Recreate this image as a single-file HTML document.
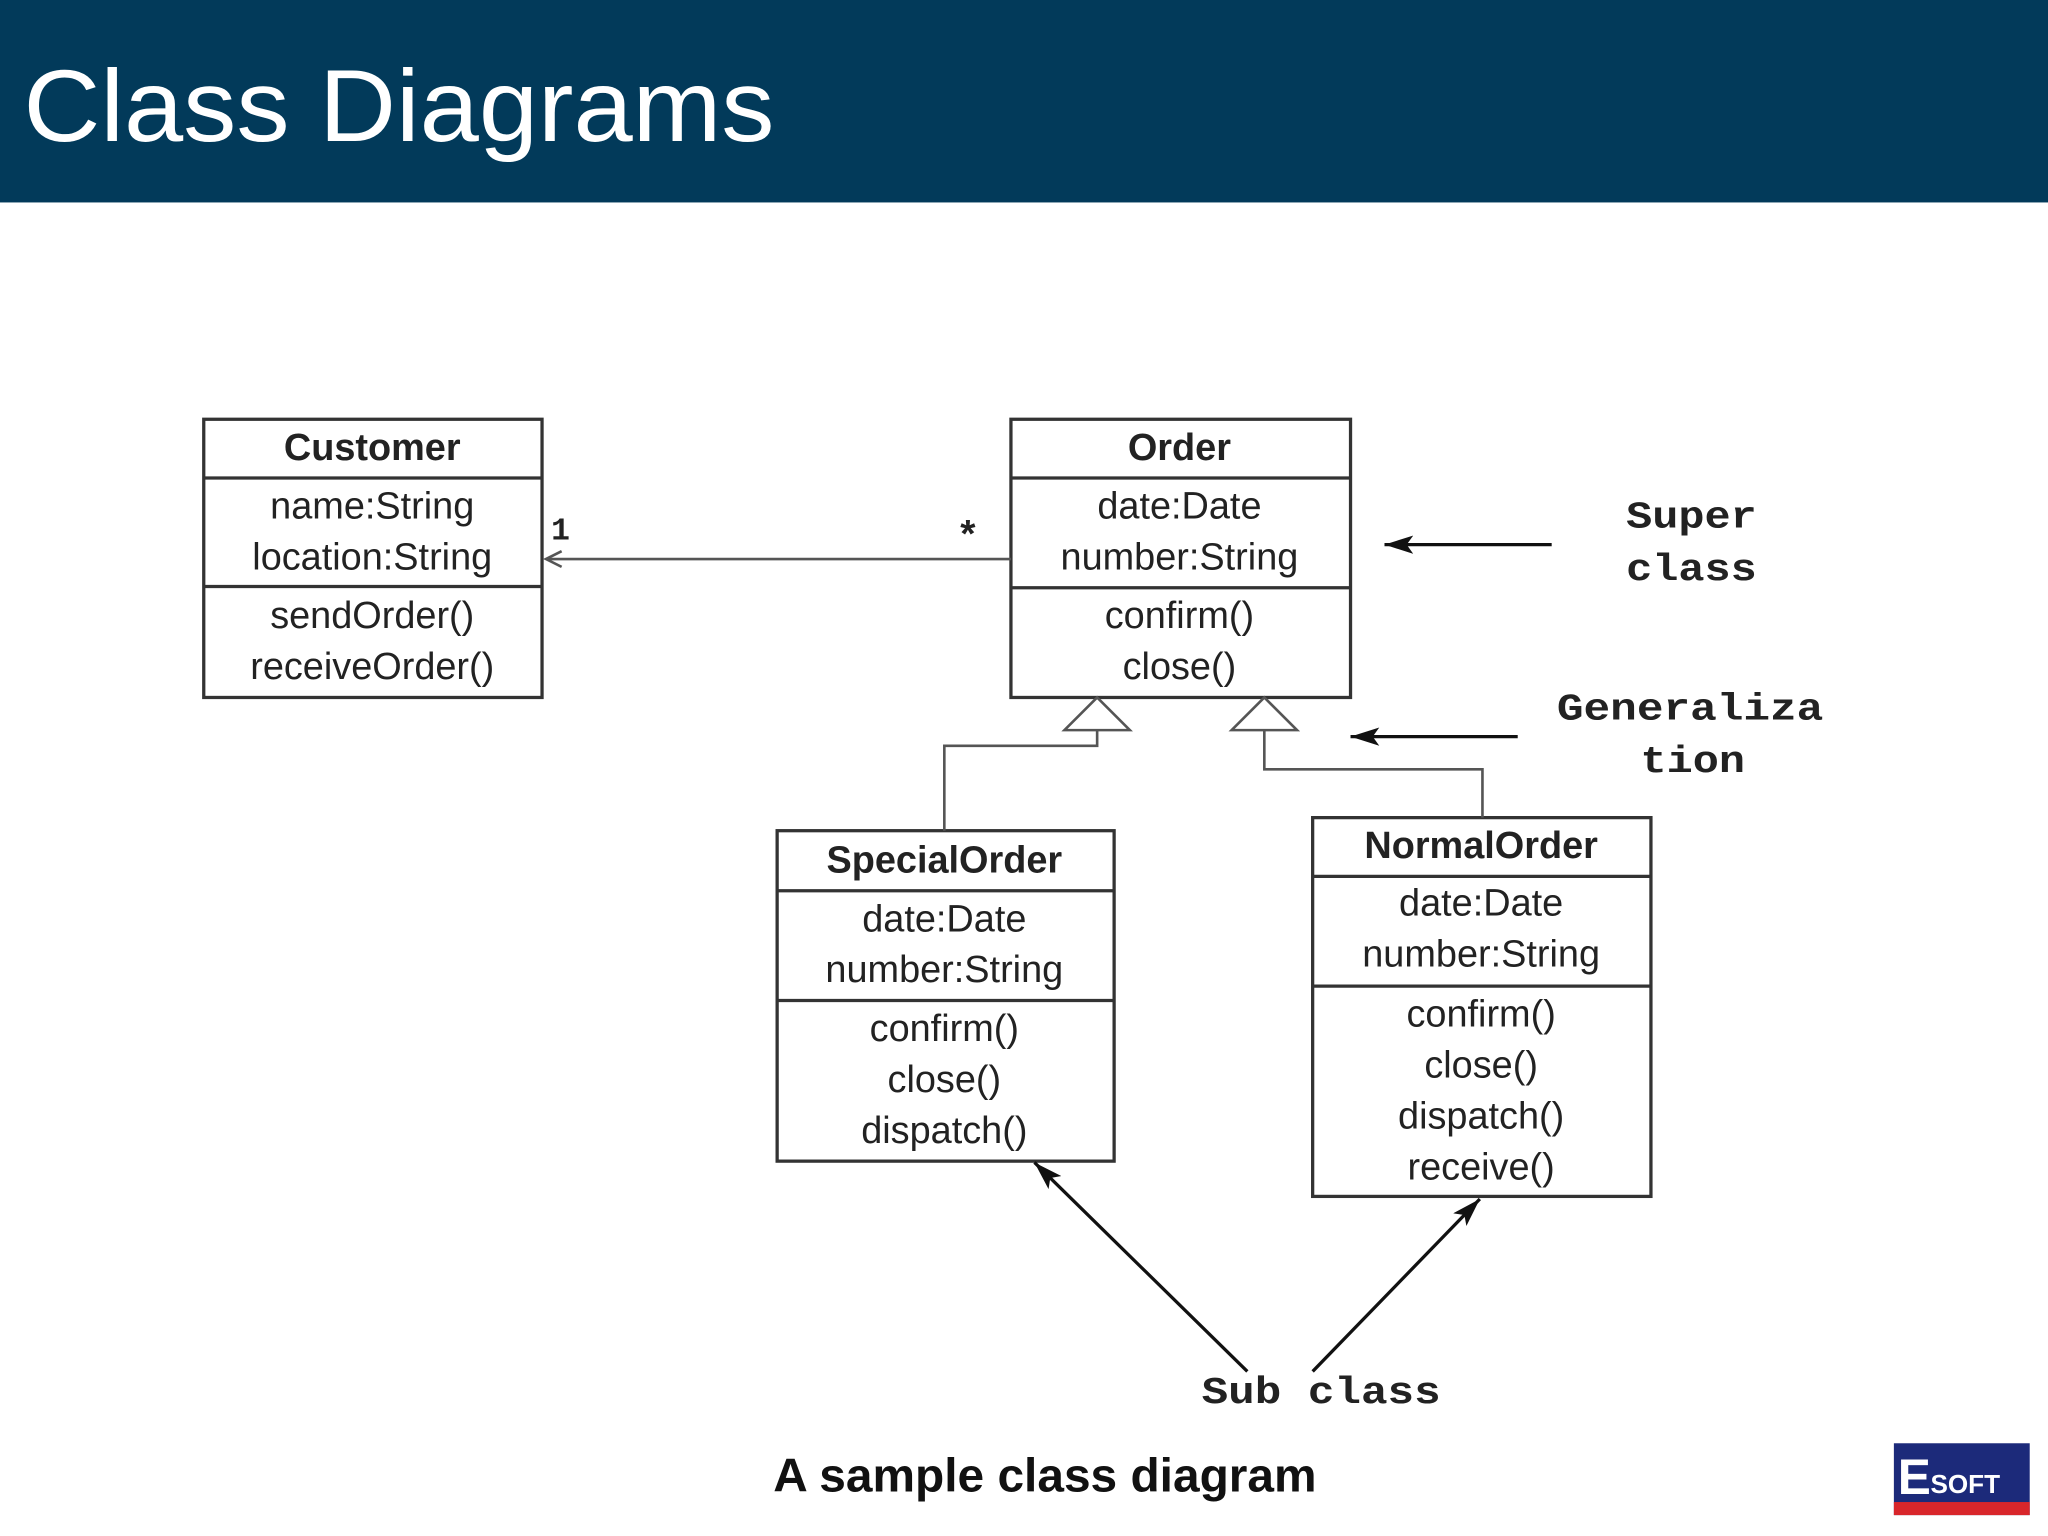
<!DOCTYPE html>
<html><head><meta charset="utf-8"><style>
html,body{margin:0;padding:0;background:#fff;width:2048px;height:1536px;overflow:hidden}
svg{display:block}
.s{font-family:"Liberation Sans",sans-serif;fill:#222;text-anchor:middle}
.m{font-family:"Liberation Mono",monospace;font-weight:bold;fill:#222}
</style></head><body>
<svg width="2048" height="1536" viewBox="0 0 1568 1176" xmlns="http://www.w3.org/2000/svg">
<defs>
<marker id="fb" markerWidth="22" markerHeight="14" refX="22" refY="7" orient="auto" markerUnits="userSpaceOnUse" viewBox="0 0 22 14"><path d="M0,0 L22,7 L0,14 L5,7 z" fill="#111"/></marker>
</defs>
<rect x="0" y="0" width="1568" height="155" fill="#023a5a"/>
<text x="18" y="108" font-family="'Liberation Sans',sans-serif" font-size="78" fill="#fff" textLength="575" lengthAdjust="spacingAndGlyphs">Class Diagrams</text>

<g fill="none" stroke="#333" stroke-width="2.5">
<rect x="156" y="321" width="259" height="213"/><line x1="156" y1="366" x2="415" y2="366"/><line x1="156" y1="449" x2="415" y2="449"/>
<rect x="774" y="321" width="260" height="213"/><line x1="774" y1="366" x2="1034" y2="366"/><line x1="774" y1="450" x2="1034" y2="450"/>
<rect x="595" y="636" width="258" height="253"/><line x1="595" y1="682" x2="853" y2="682"/><line x1="595" y1="766" x2="853" y2="766"/>
<rect x="1005" y="626" width="259" height="290"/><line x1="1005" y1="671" x2="1264" y2="671"/><line x1="1005" y1="755" x2="1264" y2="755"/>
</g>
<g fill="none" stroke="#555" stroke-width="2">
<line x1="420" y1="428" x2="774" y2="428"/>
<path d="M430,422 L418,428 L430,434"/>
<path d="M840,534 L815,559 L865,559 Z" fill="#fff"/>
<path d="M968,534 L943,559 L993,559 Z" fill="#fff"/>
<path d="M840,559 V571 H723 V636"/>
<path d="M968,559 V589 H1135 V626"/>
</g>
<g stroke="#111" stroke-width="2.5">
<line x1="1188" y1="417" x2="1060" y2="417" marker-end="url(#fb)"/>
<line x1="1162" y1="564" x2="1034" y2="564" marker-end="url(#fb)"/>
<line x1="955" y1="1050" x2="792" y2="890" marker-end="url(#fb)"/>
<line x1="1005" y1="1050" x2="1133" y2="918" marker-end="url(#fb)"/>
</g>
<g class="s" font-size="29">
<text x="285" y="352" font-weight="bold">Customer</text>
<text x="285" y="397">name:String</text><text x="285" y="436">location:String</text>
<text x="285" y="481">sendOrder()</text><text x="285" y="520">receiveOrder()</text>
<text x="903" y="352" font-weight="bold">Order</text>
<text x="903" y="397">date:Date</text><text x="903" y="436">number:String</text>
<text x="903" y="481">confirm()</text><text x="903" y="520">close()</text>
<text x="723" y="668" font-weight="bold">SpecialOrder</text>
<text x="723" y="713">date:Date</text><text x="723" y="752">number:String</text>
<text x="723" y="797">confirm()</text><text x="723" y="836">close()</text><text x="723" y="875">dispatch()</text>
<text x="1134" y="657" font-weight="bold">NormalOrder</text>
<text x="1134" y="701">date:Date</text><text x="1134" y="740">number:String</text>
<text x="1134" y="786">confirm()</text><text x="1134" y="825">close()</text><text x="1134" y="864">dispatch()</text><text x="1134" y="903">receive()</text>
</g>
<text x="422" y="413" class="m" font-size="24">1</text>
<text x="732" y="420" class="m" font-size="30">*</text>
<g class="m" font-size="29">
<text x="1245" y="404" textLength="100" lengthAdjust="spacingAndGlyphs">Super</text><text x="1245" y="444" textLength="100" lengthAdjust="spacingAndGlyphs">class</text>
<text x="1192" y="551" textLength="204" lengthAdjust="spacingAndGlyphs">Generaliza</text><text x="1256" y="591" textLength="80" lengthAdjust="spacingAndGlyphs">tion</text>
<text x="920" y="1074" textLength="183" lengthAdjust="spacingAndGlyphs">Sub class</text>
</g>
<text x="800" y="1142" text-anchor="middle" font-family="'Liberation Sans',sans-serif" font-weight="bold" font-size="36" fill="#111" textLength="416" lengthAdjust="spacingAndGlyphs">A sample class diagram</text>
<rect x="1450" y="1105" width="104" height="55" fill="#1c2a7a"/>
<rect x="1450" y="1150" width="104" height="10" fill="#d8262b"/>
<text x="1453" y="1144" font-family="'Liberation Sans',sans-serif" font-weight="bold" font-size="38" fill="#fff">E</text>
<text x="1478" y="1143" font-family="'Liberation Sans',sans-serif" font-weight="bold" font-size="20" fill="#fff">SOFT</text>
</svg>
</body></html>
